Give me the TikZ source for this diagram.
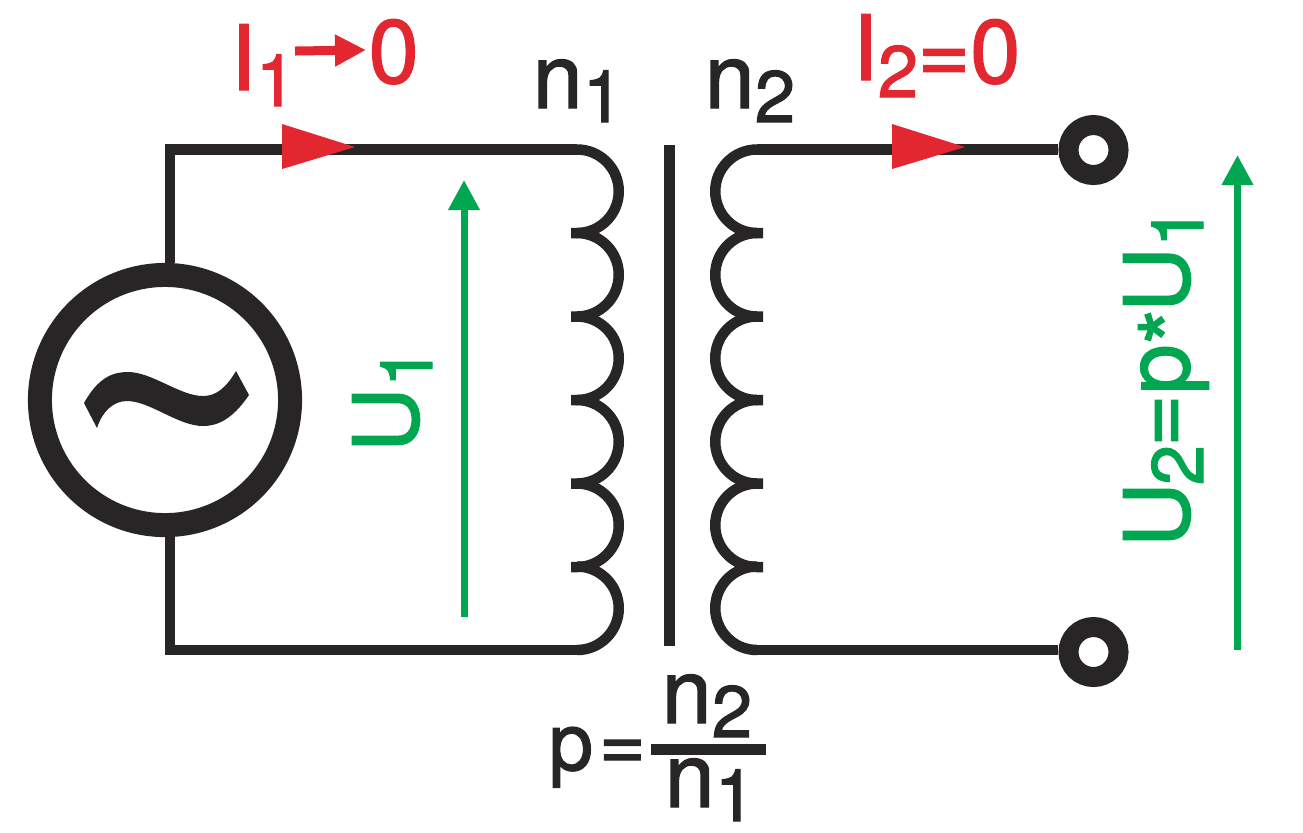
\documentclass[tikz,border=0pt]{standalone}
\usepackage{fontspec}
\setmainfont{TeX Gyre Heros}[FakeBold=1.5]
\usetikzlibrary{arrows.meta}
\usetikzlibrary{positioning}
\definecolor{wireblack}{HTML}{272526}
\definecolor{curred}{HTML}{E32731}
\definecolor{voltgreen}{HTML}{00A650}
\newcommand{\bigtxt}{\fontsize{25.6}{30}\selectfont}
\newcommand{\fractxt}{\fontsize{22.7}{26}\selectfont}
\newcommand{\lowidx}[2][1.4mm]{\raisebox{-#1}{\fontsize{20.7}{24}\selectfont #2}}
\begin{document}
\begin{tikzpicture}[x=0.01cm,y=-0.01cm,
  wire/.style={line width=1.05mm,wireblack},
  volt/.style={line width=0.7mm,voltgreen,-{Triangle[length=3mm,width=3mm]}},
  txt/.style={anchor=base west,inner sep=0pt,font=\bigtxt},
  term/.style={draw=wireblack,fill=white,circle,line width=2mm,minimum size=5mm,inner sep=0pt}]
  \useasboundingbox (0,0) rectangle (1303,832);
  % source and primary wires
  \node[draw=wireblack,fill=white,circle,line width=2.4mm,minimum size=2.5cm,inner sep=0pt] (src) at (165,400) {};
  \coordinate (tl) at (170,149.5);
  \coordinate (bl) at (170,650);
  \coordinate (p0) at (577,149.5);
  \coordinate (p6) at (577,650);
  \draw[wire](p0)--(tl)--(tl |- src.north);
  \draw[wire](p6)--(bl)--(bl |- src.south);
  \fill[wireblack](84,403) .. controls (98,378) and (112,372) .. (128,372) .. controls (152,372) and (180,396) .. (203,396) .. controls (216,396) and (226,388) .. (236,371) -- (249,395) .. controls (236,414) and (222,426) .. (203,426) .. controls (178,426) and (150,401) .. (127,401) .. controls (113,401) and (102,412) .. (97,428) -- cycle;
  % primary coil
  \draw[wire](p0) arc[start angle=-90,end angle=90,radius=41.75]--++(-6,0);
  \draw[wire](577,233) arc[start angle=-90,end angle=90,radius=41.75]--++(-6,0);
  \draw[wire](577,316.5) arc[start angle=-90,end angle=90,radius=41.75]--++(-6,0);
  \draw[wire](577,400) arc[start angle=-90,end angle=90,radius=41.75]--++(-6,0);
  \draw[wire](577,483.5) arc[start angle=-90,end angle=90,radius=41.75]--++(-6,0);
  \draw[wire](577,566.5) arc[start angle=-90,end angle=90,radius=41.75];
  % core
  \draw[wire](669.5,145)--(669.5,646);
  % secondary coil
  \coordinate (s0) at (757,149.5);
  \coordinate (s6) at (757,650);
  \draw[wire](s0) arc[start angle=-90,end angle=-270,radius=41.75]--++(6,0);
  \draw[wire](757,233) arc[start angle=-90,end angle=-270,radius=41.75]--++(6,0);
  \draw[wire](757,316.5) arc[start angle=-90,end angle=-270,radius=41.75]--++(6,0);
  \draw[wire](757,400) arc[start angle=-90,end angle=-270,radius=41.75]--++(6,0);
  \draw[wire](757,483.5) arc[start angle=-90,end angle=-270,radius=41.75]--++(6,0);
  \draw[wire](757,566.5) arc[start angle=-90,end angle=-270,radius=41.75];
  % terminals
  \node[term] (t1) at (1093.5,150) {};
  \node[term] (t2) at (1093.5,652) {};
  \draw[wire](s0)--(s0 -| t1.west);
  \draw[wire](s6)--(s6 -| t2.west);
  % current arrows
  \fill[curred](282,124)--(355,147)--(282,169)--cycle;
  \fill[curred](892,124)--(965,147)--(892,169)--cycle;
  \node[txt,curred] (i1) at (230,90) {I\lowidx[1.6mm]{1}};
  \node[txt,curred] (zero) at (368,83) {0};
  \draw[line width=0.9mm,curred,-{Triangle[length=3.1mm,width=3mm]}](295,51)--(366,50);
  \node[txt,curred] (i2) at (852,80) {I\lowidx[1.7mm]{2}};
  \node[txt,curred] (eq) at (917,83) {=0};
  % voltage arrows
  \draw[volt](464,617)--(464,180);
  \draw[volt](1237.5,650)--(1237.5,155);
  \node[txt,voltgreen,rotate=90] (u1) at (418,453) {U\lowidx{1}};
  \node[txt,voltgreen,rotate=90] (u2) at (1189,548) {U\kern-0.3mm\lowidx{2}\kern-0.2mm=p\raisebox{-1.5mm}{*}\kern-0.3mm U\lowidx{1}};
  % winding labels
  \node[txt,wireblack] (n1) at (532,108) {n\lowidx{1}};
  \node[txt,wireblack] (n2) at (704,108) {n\lowidx{2}};
  % ratio
  \node[txt,wireblack,font=\fractxt] (p) at (548,770) {p\kern0.6mm=};
  \draw[wireblack,line width=1.1mm](651,749)--(766,749);
  \node[txt,wireblack] (fn2) at (661,723) {n\lowidx{2}};
  \node[txt,wireblack] (fn1) at (664,807) {n\lowidx{1}};
\end{tikzpicture}
\end{document}
